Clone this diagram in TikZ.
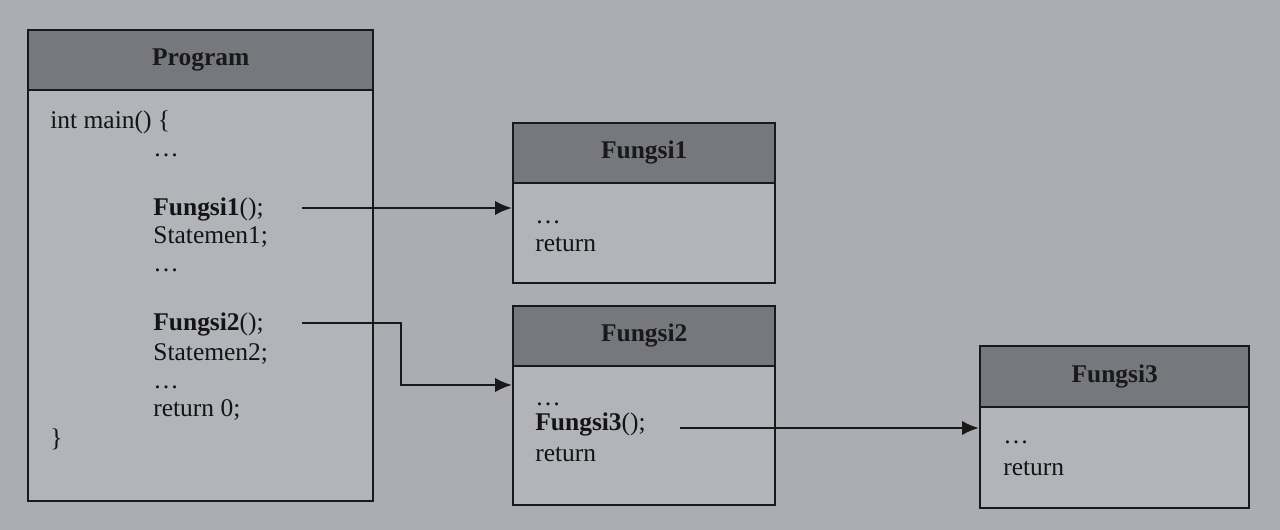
\documentclass[tikz,border=0pt]{standalone}
\usepackage{fontspec}
\setmainfont{Liberation Serif}
\usetikzlibrary{calc}
\usetikzlibrary{arrows.meta}
\definecolor{paper}{RGB}{171,173,179}
\definecolor{bodygray}{RGB}{178,180,186}
\definecolor{headgray}{RGB}{118,120,126}
\begin{document}
\begin{tikzpicture}[
    box/.style={draw=black!90, line width=1.4pt, fill=bodygray, inner sep=0pt},
    headbox/.style={draw=black!90, line width=1.4pt, fill=headgray, inner sep=0pt,
      font=\fontsize{14.5}{17}\selectfont\bfseries, text=black!90},
    code/.style={anchor=base west, inner sep=0pt, text=black!92,
      font=\fontsize{14.5}{17}\selectfont},
    call/.style={draw=black!90, line width=1.4pt, -{Latex[length=3.4mm,width=2.9mm]}}
  ]
    \path[use as bounding box] (0,0) rectangle (25.6,10.6);
    \fill[paper] (0,0) rectangle (25.6,10.6);
    % Boxes.
    \node[box, anchor=south west, minimum width=6.9cm, minimum height=9.42cm] (prog) at (0.54,0.56) {};
    \node[headbox, anchor=north west, minimum width=6.9cm, minimum height=1.2cm] (proghead) at (prog.north west) {Program};
    \node[box, anchor=south west, minimum width=5.24cm, minimum height=3.2cm] (f1) at (10.24,4.92) {};
    \node[headbox, anchor=north west, minimum width=5.24cm, minimum height=1.2cm] (f1head) at (f1.north west) {Fungsi1};
    \node[box, anchor=south west, minimum width=5.24cm, minimum height=3.98cm] (f2) at (10.24,0.48) {};
    \node[headbox, anchor=north west, minimum width=5.24cm, minimum height=1.2cm] (f2head) at (f2.north west) {Fungsi2};
    \node[box, anchor=south west, minimum width=5.38cm, minimum height=3.24cm] (f3) at (19.58,0.42) {};
    \node[headbox, anchor=north west, minimum width=5.38cm, minimum height=1.22cm] (f3head) at (f3.north west) {Fungsi3};
    % Program text.
    \node[code] (main) at (1.0,8.02) {int main() \{};
    \node[code] (dots1) at (3.06,7.46) {…};
    \node[code] (call1) at (3.06,6.28) {\textbf{Fungsi1}();};
    \node[code] (stat1) at (3.06,5.72) {Statemen1;};
    \node[code] (dots2) at (3.06,5.16) {…};
    \node[code] (call2) at (3.06,3.98) {\textbf{Fungsi2}();};
    \node[code] (stat2) at (3.06,3.38) {Statemen2;};
    \node[code] (dots3) at (3.06,2.82) {…};
    \node[code] (ret0) at (3.06,2.26) {return 0;};
    \node[code] (close) at (1.0,1.66) {\}};
    % Function text.
    \node[code] (f1dots) at (10.7,6.12) {…};
    \node[code] (f1ret) at (10.7,5.56) {return};
    \node[code] (f2dots) at (10.7,2.48) {…};
    \node[code] (call3) at (10.7,1.98) {\textbf{Fungsi3}();};
    \node[code] (f2ret) at (10.7,1.36) {return};
    \node[code] (f3dots) at (20.06,1.72) {…};
    \node[code] (f3ret) at (20.06,1.08) {return};
    % Calls.
    \coordinate (c1) at (6.04,6.44);
    \coordinate (c2) at (6.04,4.14);
    \coordinate (bend) at (8.02,2.90);
    \coordinate (c3) at (13.6,2.04);
    \draw[call] (c1) -- (c1 -| f1.west);
    \draw[call] (c2) -| (bend) -- (bend -| f2.west);
    \draw[call] (c3) -- (c3 -| f3.west);
  \end{tikzpicture}
\end{document}
